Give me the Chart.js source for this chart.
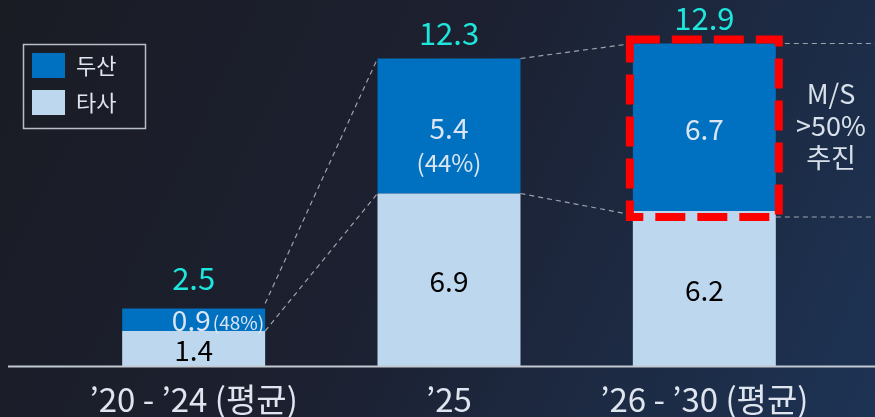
<!DOCTYPE html>
<html>
<head>
<meta charset="utf-8">
<script src="https://cdn.jsdelivr.net/npm/chart.js@4.4.1/dist/chart.umd.min.js"></script>
<style>
  html, body { margin: 0; padding: 0; background: #1b1d26; }
  #wrap { position: relative; width: 875px; height: 417px; }
</style>
</head>
<body>
<div id="wrap"><canvas id="chart"></canvas></div>
<script>
const categories = ['\u201920 - \u201924 (평균)', '\u201925', '\u201926 - \u201930 (평균)'];
const others = [1.4, 6.9, 6.2];      // 타사
const doosan = [0.9, 5.4, 6.7];      // 두산
const totals = [2.5, 12.3, 12.9];
const shareLabels = ['(48%)', '(44%)', ''];
const noteLines = ['M/S', '>50%', '추진'];

const FONT = '"Noto Sans CJK KR", "Noto Sans", sans-serif';
const COL_DARK = '#0070c0';
const COL_LIGHT = '#bdd7ee';

const bgPlugin = {
    id: 'bg',
    beforeDraw(chart) {
        const { ctx, width, height } = chart;
        const g = ctx.createLinearGradient(0, 0, width, height);
        g.addColorStop(0, '#1a1c24');
        g.addColorStop(0.45, '#1c2030');
        g.addColorStop(1, '#1d3354');
        ctx.save();
        ctx.fillStyle = g;
        ctx.fillRect(0, 0, width, height);
        ctx.restore();
    }
};

const overlayPlugin = {
    id: 'overlay',
    afterDatasetsDraw(chart) {
        const { ctx, scales: { y }, chartArea } = chart;
        const light = chart.getDatasetMeta(0).data;
        const dark = chart.getDatasetMeta(1).data;
        const L = b => b.x - b.width / 2;
        const R = b => b.x + b.width / 2;
        ctx.save();

        // baseline
        ctx.strokeStyle = '#c3c9d1';
        ctx.lineWidth = 2;
        ctx.beginPath();
        ctx.moveTo(8, chartArea.bottom + 0.5);
        ctx.lineTo(chart.width, chartArea.bottom + 0.5);
        ctx.stroke();

        // dashed connectors
        ctx.strokeStyle = 'rgba(200,204,210,0.75)';
        ctx.lineWidth = 1.2;
        ctx.setLineDash([5, 4]);
        const seg = (x1, y1, x2, y2) => { ctx.beginPath(); ctx.moveTo(x1, y1); ctx.lineTo(x2, y2); ctx.stroke(); };
        seg(R(dark[0]), y.getPixelForValue(totals[0]), L(dark[1]), y.getPixelForValue(totals[1]));
        seg(R(light[0]), y.getPixelForValue(others[0]), L(light[1]), y.getPixelForValue(others[1]));
        seg(R(dark[1]), y.getPixelForValue(totals[1]), L(dark[2]), y.getPixelForValue(totals[2]));
        seg(R(light[1]), y.getPixelForValue(others[1]), L(light[2]), y.getPixelForValue(others[2]) + 4);
        seg(R(dark[2]), y.getPixelForValue(totals[2]), chart.width, y.getPixelForValue(totals[2]));
        seg(R(light[2]), y.getPixelForValue(others[2]) + 6, chart.width, y.getPixelForValue(others[2]) + 6);

        // red dashed highlight box
        const b = dark[2];
        ctx.strokeStyle = '#ff0000';
        ctx.lineWidth = 8;
        ctx.setLineDash([30, 12]);
        ctx.strokeRect(L(b) - 3, b.y - 4, b.width + 6, b.base - b.y + 10);
        ctx.setLineDash([]);

        // segment labels
        ctx.textAlign = 'center';
        ctx.textBaseline = 'middle';
        light.forEach((bar, i) => {
            ctx.fillStyle = '#000';
            ctx.font = '28px ' + FONT;
            ctx.fillText(others[i].toFixed(1), bar.x, (bar.y + bar.base) / 2 + 2);
        });
        dark.forEach((bar, i) => {
            const mid = (bar.y + bar.base) / 2;
            ctx.fillStyle = '#dbe6f2';
            if (i === 0) {
                ctx.font = '19px ' + FONT;
                const pw = ctx.measureText(shareLabels[i]).width;
                ctx.textAlign = 'right';
                ctx.fillText(shareLabels[i], R(bar) - 1, mid + 3);
                ctx.font = '28px ' + FONT;
                ctx.fillText(doosan[i].toFixed(1), R(bar) - 3 - pw, mid + 1);
                ctx.textAlign = 'center';
            } else {
                ctx.font = '28px ' + FONT;
                ctx.fillText(doosan[i].toFixed(1), bar.x, mid + 2);
                if (shareLabels[i]) {
                    ctx.font = '24px ' + FONT;
                    ctx.fillText(shareLabels[i], bar.x, mid + 37);
                }
            }
            // totals
            ctx.fillStyle = '#1ee6dd';
            ctx.font = '31px ' + FONT;
            ctx.fillText(totals[i].toFixed(1), bar.x, y.getPixelForValue(totals[i]) - 25);
        });

        // side note
        ctx.fillStyle = '#d8e0ea';
        ctx.font = '27px ' + FONT;
        noteLines.forEach((t, i) => ctx.fillText(t, 831, 94 + i * 32));

        // legend box
        ctx.strokeStyle = '#b8bec8';
        ctx.lineWidth = 1.5;
        ctx.strokeRect(23.5, 44.5, 122, 84);
        const items = [chart.data.datasets[1], chart.data.datasets[0]];
        items.forEach((ds, i) => {
            ctx.fillStyle = ds.backgroundColor;
            ctx.fillRect(32, 53 + i * 37, 33, 25);
            ctx.fillStyle = '#dfe5ee';
            ctx.font = '22px ' + FONT;
            ctx.textAlign = 'left';
            ctx.fillText(ds.label, 76, 66 + i * 37);
        });
        ctx.restore();
    }
};

new Chart(document.getElementById('chart'), {
    type: 'bar',
    data: {
        labels: categories,
        datasets: [
            { label: '타사', data: others, backgroundColor: COL_LIGHT, borderWidth: 0 },
            { label: '두산', data: doosan, backgroundColor: COL_DARK, borderWidth: 0 }
        ]
    },
    options: {
        responsive: true,
        maintainAspectRatio: false,
        animation: false,
        datasets: { bar: { categoryPercentage: 1, barPercentage: 0.56 } },
        layout: { padding: { left: 66, right: 43, top: 16, bottom: 0 } },
        plugins: { legend: { display: false }, tooltip: { enabled: false } },
        scales: {
            x: {
                stacked: true,
                grid: { display: false },
                border: { display: false },
                ticks: { color: '#dfe5ee', font: { family: FONT, size: 33 }, padding: 6, maxRotation: 0 },
                afterFit(axis) { axis.height = 51; }
            },
            y: { stacked: true, display: false, min: 0, max: 14 }
        }
    },
    plugins: [bgPlugin, overlayPlugin]
});
</script>
</body>
</html>
